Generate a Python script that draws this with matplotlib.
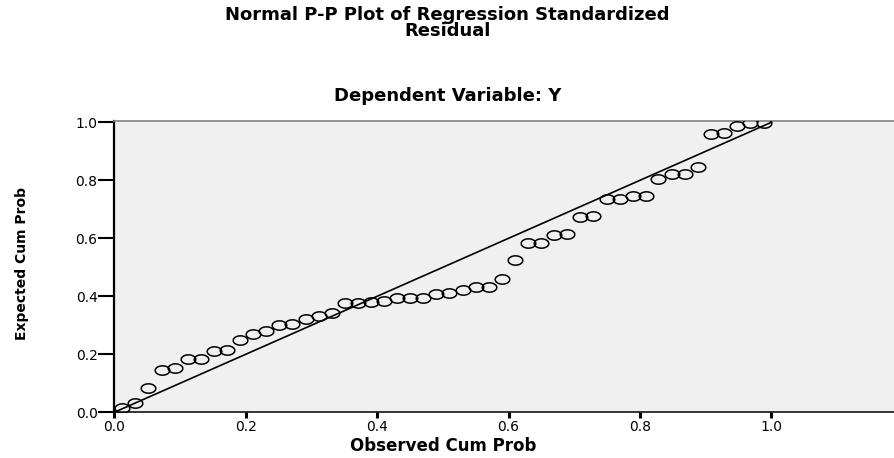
import numpy as np
import matplotlib
matplotlib.use("Agg")
import matplotlib.pyplot as plt
from matplotlib.path import Path

# Observed cum prob (x) and expected cum prob (y)
observed = [0.012, 0.032, 0.052, 0.072, 0.092, 0.112, 0.132, 0.152, 0.172, 0.192,
            0.211, 0.231, 0.251, 0.271, 0.291, 0.311, 0.331, 0.351, 0.371, 0.391,
            0.410, 0.430, 0.450, 0.470, 0.490, 0.510, 0.530, 0.550, 0.570, 0.590,
            0.610, 0.629, 0.649, 0.669, 0.689, 0.709, 0.729, 0.749, 0.769, 0.789,
            0.809, 0.828, 0.848, 0.868, 0.888, 0.908, 0.928, 0.948, 0.968, 0.988]
expected = [0.014, 0.033, 0.083, 0.146, 0.154, 0.183, 0.185, 0.211, 0.215, 0.250,
            0.270, 0.280, 0.301, 0.303, 0.321, 0.332, 0.343, 0.376, 0.376, 0.379,
            0.384, 0.395, 0.395, 0.395, 0.408, 0.413, 0.422, 0.433, 0.433, 0.459,
            0.526, 0.585, 0.585, 0.610, 0.616, 0.672, 0.677, 0.736, 0.736, 0.747,
            0.747, 0.803, 0.822, 0.822, 0.847, 0.959, 0.962, 0.987, 0.997, 0.999]
ticks = [0.0, 0.2, 0.4, 0.6, 0.8, 1.0]
tick_labels = ["0.0", "0.2", "0.4", "0.6", "0.8", "1.0"]

# wide ellipse marker (the original picture is stretched sideways)
t = np.linspace(0, 2 * np.pi, 60)
ellipse = Path(np.column_stack([np.cos(t), 0.64 * np.sin(t)]), closed=True)

fig = plt.figure(figsize=(8.95, 4.58), dpi=100)
ax = fig.add_axes([0.1277, 0.0998, 0.8723, 0.6367])
ax.set_facecolor("#f0f0f0")

ax.plot([0, 1], [0, 1], color="black", lw=1.2, zorder=2)
ax.plot(observed, expected, linestyle="none", marker=ellipse, markersize=10.5,
        markerfacecolor="none", markeredgecolor="black", markeredgewidth=1.1, zorder=3)

ax.set_xlim(0, 1.188)
ax.set_ylim(0, 1.0055)
ax.set_xticks(ticks)
ax.set_xticklabels(tick_labels)
ax.set_yticks(ticks)
ax.set_yticklabels(tick_labels)

ax.spines["right"].set_visible(False)
ax.spines["top"].set_color("#808080")
ax.spines["top"].set_linewidth(1.2)
ax.spines["left"].set_linewidth(1.6)
ax.spines["bottom"].set_linewidth(1.1)

ax.tick_params(axis="y", direction="out", length=11.5, width=1.5, pad=0.5,
               labelsize=10)
ax.tick_params(axis="x", direction="out", length=4.3, width=2.2, pad=1.5,
               labelsize=10)

fig.text(0.5, 1 - 23 / 458, "Normal P-P Plot of Regression Standardized\nResidual",
         ha="center", va="center", fontsize=13, fontweight="bold", linespacing=0.9)
fig.text(0.5, 1 - 96 / 458, "Dependent Variable: Y", ha="center", va="center",
         fontsize=13, fontweight="bold")
fig.text(0.495, 1 - 446 / 458, "Observed Cum Prob", ha="center", va="center",
         fontsize=12, fontweight="bold")
fig.text(22 / 895, 1 - 264 / 458, "Expected Cum Prob", ha="center", va="center",
         rotation=90, fontsize=10, fontweight="bold",
         family=["Liberation Sans Narrow", "DejaVu Sans Condensed", "DejaVu Sans"])

fig.savefig("out.png", dpi=100)
